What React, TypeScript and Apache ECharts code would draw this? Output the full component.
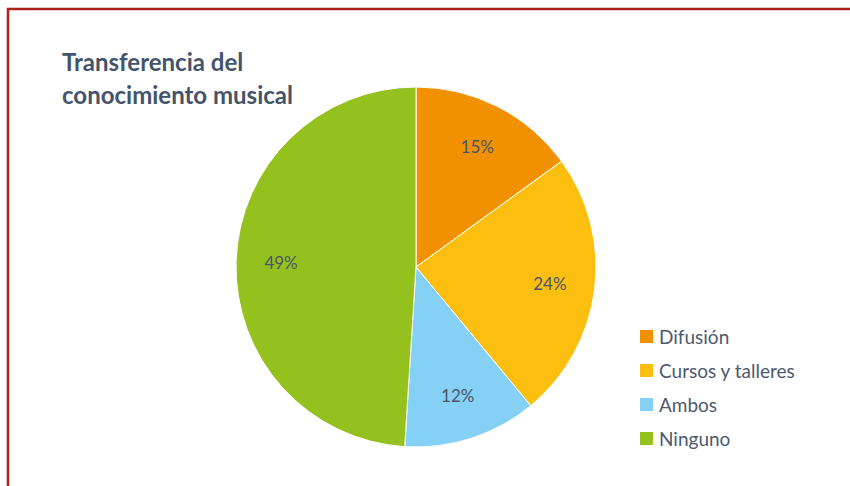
import React, { useEffect, useRef } from "react";
import * as echarts from "echarts";

const categories = ["Difusión", "Cursos y talleres", "Ambos", "Ninguno"];
const values = [15, 24, 12, 49];
const colors = ["#f29100", "#fcbf10", "#85d0f5", "#95c11f"];
const titleLines = ["Transferencia del", "conocimiento musical"];

export default function App() {
  const ref = useRef<HTMLDivElement>(null);
  useEffect(() => {
    if (!ref.current) return;
    const chart = echarts.init(ref.current, null, { renderer: "svg" });
    const data = categories.map((name, i) => ({ name, value: values[i], itemStyle: { color: colors[i] } }));
    chart.setOption({
      animation: false,
      backgroundColor: "#ffffff",
      graphic: [
        {
          type: "rect",
          shape: { x: 8, y: 9, width: 1000, height: 1000 },
          style: { fill: "none", stroke: "#b11f1a", lineWidth: 2.5 },
          silent: true,
        },
        {
          type: "text",
          left: 62,
          top: 45,
          style: {
            text: titleLines.join("\n"),
            font: "bold 24px Lato",
            fill: "#44546a",
            lineHeight: 33,
          },
        },
      ],
      legend: {
        orient: "vertical",
        left: 638,
        top: 327,
        padding: 0,
        itemWidth: 15,
        itemHeight: 15,
        itemGap: 15,
        icon: "rect",
        data: categories,
        textStyle: { fontFamily: "Lato", fontSize: 19, color: "#4d5a6e", padding: [0, 0, 0, 0] },
      },
      series: [
        {
          type: "pie",
          center: [416, 267],
          radius: [0, 180],
          startAngle: 90,
          clockwise: true,
          data,
          label: { show: false },
          labelLine: { show: false },
          itemStyle: { borderColor: "#ffffff", borderWidth: 1 },
          emphasis: { disabled: true },
        },
        {
          type: "pie",
          center: [416, 267],
          radius: [84, 180],
          startAngle: 90,
          clockwise: true,
          silent: true,
          data: data.map((d) => ({ ...d, itemStyle: { color: "transparent" } })),
          label: {
            show: true,
            position: "inside",
            formatter: (p: any) => p.value + "%",
            fontFamily: "Lato",
            fontSize: 17,
            color: "#4a5568",
          },
          labelLine: { show: false },
          emphasis: { disabled: true },
        },
      ],
    });
    return () => chart.dispose();
  }, []);
  return <div ref={ref} style={{ position: "absolute", left: 0, top: 0, width: 850, height: 486 }} />;
}
